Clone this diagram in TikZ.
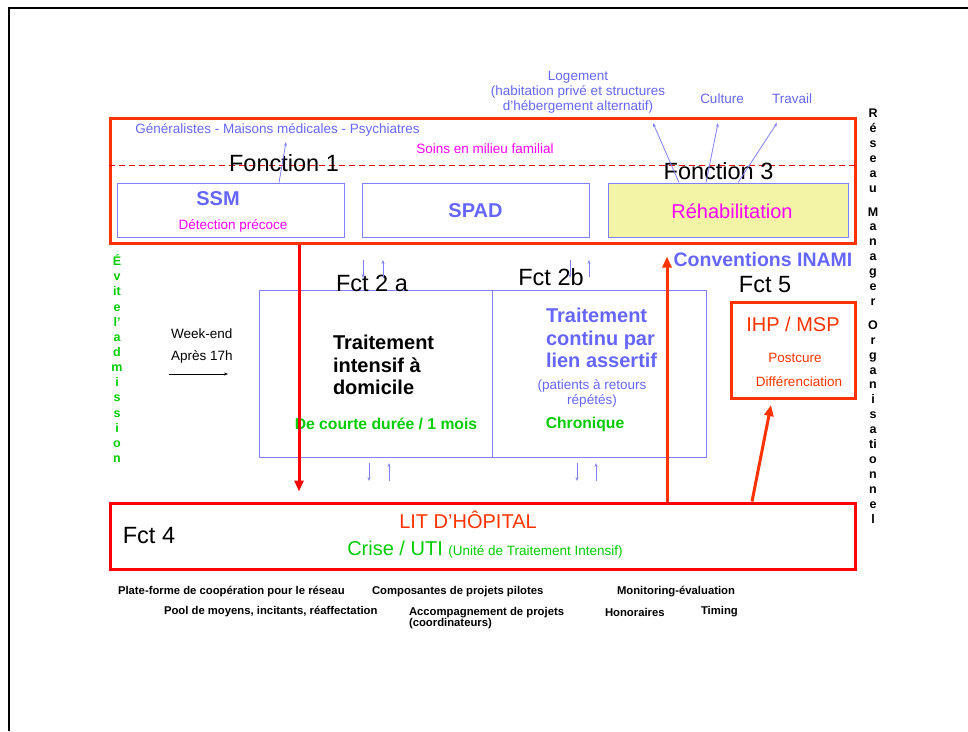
\documentclass[tikz,border=0pt]{standalone}
\usepackage{fontspec}
\setmainfont{Liberation Sans}
\usetikzlibrary{arrows.meta}

\definecolor{fblue}{RGB}{102,102,255}
\definecolor{lineblue}{RGB}{128,128,255}
\definecolor{fmag}{RGB}{255,0,255}
\definecolor{forange}{RGB}{255,51,0}
\definecolor{fred}{RGB}{255,0,0}
\definecolor{fgreen}{RGB}{0,204,0}
\definecolor{fyellow}{RGB}{244,244,166}

\newcommand\setfs[2]{\fontsize{#1}{#2}\selectfont}

\begin{document}
\begin{tikzpicture}[x=1pt,y=-1pt,
  txt/.style={inner sep=0pt,outer sep=0pt},
  small/.style={txt,font=\setfs{13.5}{15}},
  big/.style={txt,font=\setfs{23.5}{26}},
  mid/.style={txt,font=\setfs{20}{22.5}},
  midb/.style={txt,font=\setfs{20}{22.5}\bfseries},
  foot/.style={txt,font=\setfs{11.3}{11.5}\bfseries,anchor=west},
  vert/.style={txt,font=\setfs{12.5}{14.9}\bfseries,align=center},
  outerbox/.style={draw=forange,line width=3pt,inner sep=0pt},
  litbox/.style={draw=fred,line width=3pt,inner sep=0pt},
  bluebox/.style={draw=lineblue,line width=0.8pt,inner sep=0pt},
  thinarrow/.style={draw=lineblue,line width=0.8pt,-{Stealth[length=4pt,width=3pt]}},
  bigarrow/.style={line width=3pt,-{Triangle[length=11pt,width=9pt]}},
]
\useasboundingbox (0,0) rectangle (968,731);

% page frame
\draw[line width=2pt] (9,731) -- (9,8) -- (968,8);

% ---- boxes ----
\node[outerbox,minimum width=745pt,minimum height=125pt] (f1box) at (482.5,180.5) {};
\draw[fred,line width=0.8pt,dash pattern=on 6pt off 4pt] (f1box.west |- 0,165) -- (f1box.east |- 0,165);
\node[bluebox,minimum width=227pt,minimum height=54pt] (ssm) at (230.5,210) {};
\node[bluebox,minimum width=227pt,minimum height=54pt] (spad) at (475.5,210) {};
\node[bluebox,fill=fyellow,minimum width=240pt,minimum height=54pt] (rehab) at (728,210) {};

\node[bluebox,minimum width=233pt,minimum height=167pt] (f2a) at (375.5,373.5) {};
\node[bluebox,minimum width=214pt,minimum height=167pt] (f2b) at (599,373.5) {};

\node[outerbox,minimum width=124pt,minimum height=96pt] (ihp) at (793,350) {};
\node[litbox,minimum width=745pt,minimum height=66pt] (lit) at (482.5,536) {};

% ---- texts of the first block ----
\node[small,text=fblue] (gen) at (277.5,130) {Généralistes - Maisons médicales - Psychiatres};
\node[small,text=fmag] (soins) at (485,149) {Soins en milieu familial};
\node[big] (fonc1) at (284,163) {Fonction 1};
\node[big] (fonc3) at (718.5,171) {Fonction 3};
\node[midb,text=fblue] (ssmt) at (218,199) {SSM};
\node[small,text=fmag] (detect) at (233,226) {Détection précoce};
\node[midb,text=fblue] (spadt) at (475.5,211) {SPAD};
\node[mid,text=fmag] (rehabt) at (732,211) {Réhabilitation};

\node[small,text=fblue,align=center] (logement) at (578,92)
  {Logement\\(habitation privé et structures\\d’hébergement alternatif)};
\node[small,text=fblue] (culture) at (722,99) {Culture};
\node[small,text=fblue] (travail) at (792,99) {Travail};

% ---- vertical side labels ----
\node[vert] (reseau) at (873,316)
  {R\\é\\s\\e\\a\\u\\[9pt]M\\a\\n\\a\\g\\e\\r\\[9pt]O\\r\\g\\a\\n\\i\\s\\a\\ti\\o\\n\\n\\e\\l};
\node[vert,text=fgreen,font=\setfs{12.5}{15.15}\bfseries] (evite) at (117,358.5)
  {É\\v\\it\\e\\l’\\a\\d\\m\\i\\s\\s\\i\\o\\n};

% ---- middle block ----
\node[big] (fct2a) at (372,283) {Fct 2 a};
\node[big] (fct2b) at (551,277) {Fct 2b};
\node[midb,align=left,anchor=west] (traitA) at (333,365) {Traitement\\intensif à\\domicile};
\node[txt,font=\setfs{15.7}{18}\bfseries,text=fgreen] (courte) at (386,424) {De courte durée / 1 mois};
\node[midb,align=left,anchor=west,text=fblue] (traitB) at (546,338) {Traitement\\continu par\\lien assertif};
\node[small,align=center,text=fblue] (patients) at (592,393.5) {(patients à retours\\répétés)};
\node[txt,font=\setfs{15.7}{18}\bfseries,text=fgreen] (chron) at (585,424) {Chronique};

\node[txt,font=\setfs{19.5}{22}\bfseries,text=fblue] (conv) at (763,260) {Conventions INAMI};
\node[big] (fct5) at (765,285) {Fct 5};
\node[mid,text=forange] (ihpt) at (793,324) {IHP / MSP};
\node[small,text=forange] (postcure) at (795,358) {Postcure};
\node[small,text=forange] (diff) at (799,382) {Différenciation};

\node[small,align=left,anchor=west,font=\setfs{13.5}{22}] (week) at (171,346) {Week-end\\Après 17h};

% ---- hospital block ----
\node[big] (fct4) at (149,536) {Fct 4};
\node[mid,text=forange] (litt) at (468,520) {LIT D’HÔPITAL};
\node[mid,text=fgreen] (crise) at (485,550) {Crise / UTI {\setfs{13.5}{15}(Unité de Traitement Intensif)}};

% ---- footer ----
\node[foot] (plate) at (118,592) {Plate-forme de coopération pour le réseau};
\node[foot] (compo) at (372,592) {Composantes de projets pilotes};
\node[foot] (monit) at (617,592) {Monitoring-évaluation};
\node[foot] (pool) at (164,612) {Pool de moyens, incitants, réaffectation};
\node[foot,align=left] (accomp) at (409,618) {Accompagnement de projets\\(coordinateurs)};
\node[foot] (hono) at (605,612) {Honoraires};
\node[foot] (timing) at (701,612) {Timing};

% ---- thin connectors ----
\coordinate (ssmtip) at (286,142);
\draw[thinarrow] (ssm.north -| 279,0) -- (ssmtip);
\coordinate (logtip) at (653,123);
\coordinate (culttip) at (718,123);
\coordinate (travtip) at (777,123);
\draw[thinarrow] (rehab.north -| 679,0) -- (logtip);
\draw[thinarrow] (rehab.north -| 706,0) -- (culttip);
\draw[thinarrow] (rehab.north -| 738,0) -- (travtip);

% exchanges between the first block, the middle block and the hospital
\coordinate (u1a) at (363,260); \coordinate (u1b) at (363,278);
\coordinate (u2a) at (383,278); \coordinate (u2b) at (383,260);
\coordinate (u3a) at (570,260); \coordinate (u3b) at (570,278);
\coordinate (u4a) at (589,277); \coordinate (u4b) at (589,260);
\draw[thinarrow] (u1a) -- (u1b);
\draw[thinarrow] (u2a) -- (u2b);
\draw[thinarrow] (u3a) -- (u3b);
\draw[thinarrow] (u4a) -- (u4b);
\coordinate (d1a) at (369,463); \coordinate (d1b) at (369,481);
\coordinate (d2a) at (389,481); \coordinate (d2b) at (389,463);
\coordinate (d3a) at (577,463); \coordinate (d3b) at (577,481);
\coordinate (d4a) at (596,481); \coordinate (d4b) at (596,463);
\draw[thinarrow] (d1a) -- (d1b);
\draw[thinarrow] (d2a) -- (d2b);
\draw[thinarrow] (d3a) -- (d3b);
\draw[thinarrow] (d4a) -- (d4b);

\coordinate (wkA) at (169,374);
\coordinate (wkB) at (228,374);
\draw[line width=0.8pt,-{Stealth[length=4pt,width=3pt]}] (wkA) -- (wkB);

% ---- main red arrows ----
\coordinate (xa) at (299,0);
\coordinate (xb) at (667,0);
\draw[bigarrow,draw=fred,fill=fred] (f1box.south -| xa) -- ([yshift=10pt]lit.north -| xa);
\draw[bigarrow,draw=forange,fill=forange] (lit.north -| xb) -- ([yshift=-12pt]f1box.south -| xb);
\coordinate (ihpfoot) at (771,405);
\draw[bigarrow,draw=forange,fill=forange] (lit.north -| 752,0) -- (ihpfoot);
\end{tikzpicture}
\end{document}
